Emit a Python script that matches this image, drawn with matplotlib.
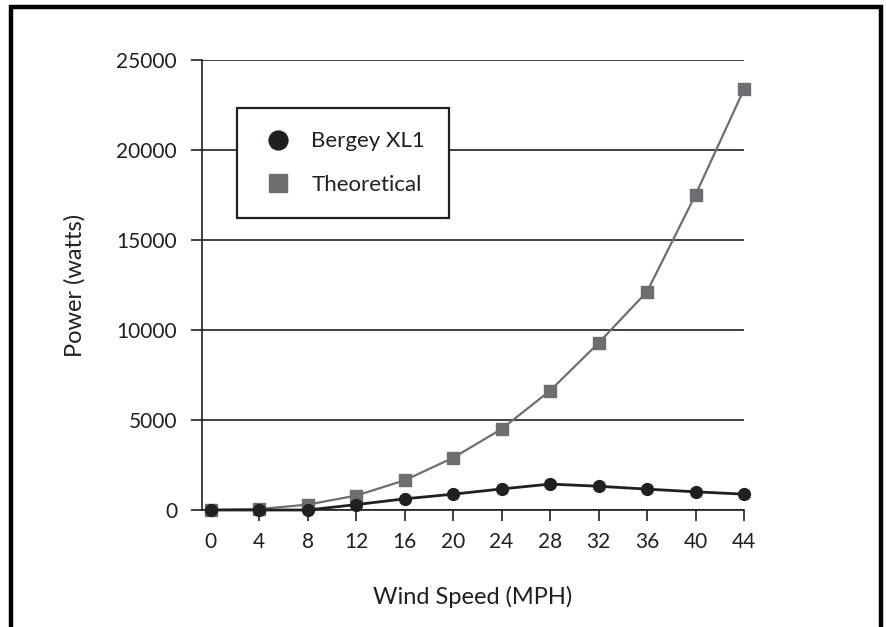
import matplotlib
matplotlib.use("Agg")
import matplotlib.pyplot as plt
from matplotlib.patches import Rectangle

# wind speed (mph) and power (watts)
wind_speed = [0, 4, 8, 12, 16, 20, 24, 28, 32, 36, 40, 44]
bergey_xl1 = [0, 0, 0, 300, 620, 880, 1170, 1440, 1320, 1160, 1010, 880]
theoretical = [0, 50, 300, 800, 1650, 2900, 4500, 6630, 9280, 12130, 17510, 23370]

y_ticks = [0, 5000, 10000, 15000, 20000, 25000]
x_ticks = [0, 4, 8, 12, 16, 20, 24, 28, 32, 36, 40, 44]

dark = "#231f20"
grey = "#6d6e71"

plt.rcParams["font.family"] = ["Lato", "DejaVu Sans"]

W, H = 886, 627
fig = plt.figure(figsize=(W / 100, H / 100), dpi=100)
ax = fig.add_axes([202 / W, 1 - 510 / H, (744 - 202) / W, (510 - 60) / H])

# outer frame (thick black, open at the bottom)
fig.patches.append(Rectangle((11 / W, -0.2), (881 - 11) / W, 1.2 - 7 / H,
                             transform=fig.transFigure, fill=False,
                             edgecolor="black", linewidth=3.2, zorder=10))

ax.plot(wind_speed, theoretical, color=grey, lw=1.6, marker="s", ms=8,
        mfc=grey, mec=grey, label="Theoretical", zorder=3, clip_on=False)
ax.plot(wind_speed, bergey_xl1, color=dark, lw=2.0, marker="o", ms=8.5,
        mfc=dark, mec=dark, label="Bergey XL1", zorder=4, clip_on=False)

ax.set_xlim(-0.72, 44)
ax.set_ylim(0, 25000)
ax.set_yticks(y_ticks)
ax.set_yticklabels([str(v) for v in y_ticks])
ax.set_xticks(x_ticks[1:])
ax.set_xticklabels([str(v) for v in x_ticks[1:]])
# the "0" label sits without a tick
ax.text(0, -0.07, "0", transform=ax.get_xaxis_transform(), ha="center",
        va="center", fontsize=15, color=dark)

ax.yaxis.grid(True, color=dark, lw=1.2)
ax.set_axisbelow(True)
for s in ["top", "right"]:
    ax.spines[s].set_visible(False)
for s in ["left", "bottom"]:
    ax.spines[s].set_color(dark)
    ax.spines[s].set_linewidth(1.2)
ax.tick_params(axis="both", direction="out", length=8, width=1.2,
               color=dark, labelcolor=dark, labelsize=15)
ax.tick_params(axis="x", pad=8)
ax.tick_params(axis="y", pad=10)

ax.set_xlabel("Wind Speed (MPH)", fontsize=17, color=dark, labelpad=24)
ax.set_ylabel("Power (watts)", fontsize=17, color=dark, labelpad=22)

handles, labels = ax.get_legend_handles_labels()
leg = ax.legend(handles[::-1], labels[::-1], loc="upper left",
                bbox_to_anchor=(0.0646, 0.893), fontsize=16, frameon=True,
                fancybox=False, edgecolor=dark, framealpha=1,
                borderpad=1.05, labelspacing=1.05, handlelength=1.6,
                handletextpad=0.7, markerscale=1.6, borderaxespad=0)
leg.get_frame().set_linewidth(1.6)
for line in leg.get_lines():
    line.set_linestyle("none")
for t in leg.get_texts():
    t.set_color(dark)

fig.savefig("out.png", dpi=100)
